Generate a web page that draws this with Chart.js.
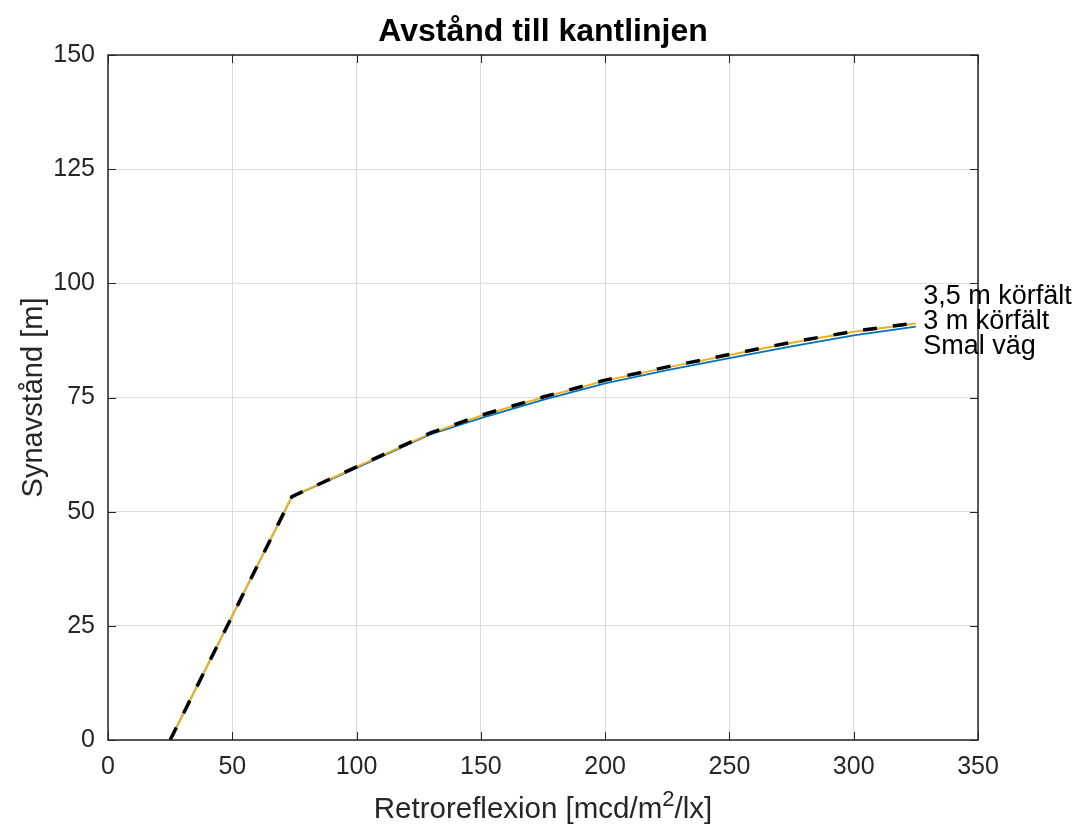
<!DOCTYPE html>
<html>
<head>
<meta charset="utf-8">
<title>Avstånd till kantlinjen</title>
<script src="https://cdn.jsdelivr.net/npm/chart.js@4.4.1/dist/chart.umd.min.js"></script>
<style>
  html, body { margin: 0; padding: 0; background: #ffffff; }
  #wrap { position: relative; width: 1077px; height: 833px; }
</style>
</head>
<body>
<div id="wrap"><canvas id="chart"></canvas></div>
<script>
// Retroreflexion [mcd/m2/lx] vs synavstånd [m]
const retroreflexion = [25, 74, 100, 130, 150, 175, 200, 225, 250, 275, 300, 325];
const smalVag     = [0, 53.3, 59.6, 67.0, 70.5, 74.5, 78.1, 81.0, 83.6, 86.2, 88.6, 90.5];
const treMeter    = [0, 53.3, 59.8, 67.2, 71.0, 75.0, 78.7, 81.6, 84.3, 87.0, 89.4, 91.2];
const treFemMeter = [0, 53.3, 59.8, 67.3, 71.1, 75.1, 78.8, 81.7, 84.4, 87.1, 89.5, 91.3];

const seriesNames = ['Smal väg', '3 m körfält', '3,5 m körfält'];
const seriesColors = ['#0072BD', '#EDB120', '#000000'];

// text placed next to the line ends (data coordinates)
const endLabelX = 328;
const endLabelY = [86.2, 91.6, 97.1];

const xTickValues = [0, 50, 100, 150, 200, 250, 300, 350];
const yTickValues = [0, 25, 50, 75, 100, 125, 150];

const FONT = "'Liberation Sans', Arial, Helvetica, sans-serif";
const AXIS_COLOR = '#262626';

const toPoints = (ys) => retroreflexion.map((x, i) => ({ x, y: ys[i] }));

const framePlugin = {
  id: 'matlabFrame',
  afterDraw(chart) {
    const { ctx, chartArea: area, scales } = chart;
    const xs = scales.x;
    const ys = scales.y;
    ctx.save();

    // inward tick marks on all four sides
    ctx.strokeStyle = AXIS_COLOR;
    ctx.lineWidth = 1;
    const tickLen = 8;
    ctx.beginPath();
    xTickValues.forEach((v) => {
      const px = Math.round(xs.getPixelForValue(v)) + 0.5;
      ctx.moveTo(px, area.bottom);
      ctx.lineTo(px, area.bottom - tickLen);
      ctx.moveTo(px, area.top);
      ctx.lineTo(px, area.top + tickLen);
    });
    yTickValues.forEach((v) => {
      const py = Math.round(ys.getPixelForValue(v)) + 0.5;
      ctx.moveTo(area.left, py);
      ctx.lineTo(area.left + tickLen, py);
      ctx.moveTo(area.right, py);
      ctx.lineTo(area.right - tickLen, py);
    });
    ctx.stroke();

    // axes box
    ctx.lineWidth = 1.5;
    ctx.strokeRect(area.left, area.top, area.right - area.left, area.bottom - area.top);

    // title
    ctx.fillStyle = '#000000';
    ctx.font = `bold 32px ${FONT}`;
    ctx.textAlign = 'center';
    ctx.textBaseline = 'alphabetic';
    const midX = (area.left + area.right) / 2;
    ctx.fillText('Avstånd till kantlinjen', midX, 41);

    // x axis title with superscript
    ctx.fillStyle = AXIS_COLOR;
    const partA = 'Retroreflexion [mcd/m';
    const partSup = '2';
    const partB = '/lx]';
    ctx.font = `29.5px ${FONT}`;
    const wA = ctx.measureText(partA).width;
    const wB = ctx.measureText(partB).width;
    ctx.font = `22px ${FONT}`;
    const wSup = ctx.measureText(partSup).width;
    let cx = midX - (wA + wSup + wB) / 2;
    ctx.textAlign = 'left';
    ctx.font = `29.5px ${FONT}`;
    ctx.fillText(partA, cx, 818);
    cx += wA;
    ctx.font = `22px ${FONT}`;
    ctx.fillText(partSup, cx, 806);
    cx += wSup;
    ctx.font = `29.5px ${FONT}`;
    ctx.fillText(partB, cx, 818);

    // y axis title
    ctx.save();
    ctx.translate(42, (area.top + area.bottom) / 2);
    ctx.rotate(-Math.PI / 2);
    ctx.textAlign = 'center';
    ctx.font = `29px ${FONT}`;
    ctx.fillText('Synavstånd [m]', 0, 0);
    ctx.restore();

    // line end labels
    ctx.fillStyle = '#000000';
    ctx.font = `27px ${FONT}`;
    ctx.textAlign = 'left';
    ctx.textBaseline = 'middle';
    seriesNames.forEach((name, i) => {
      ctx.fillText(name, xs.getPixelForValue(endLabelX), ys.getPixelForValue(endLabelY[i]));
    });

    ctx.restore();
  },
};

new Chart(document.getElementById('chart'), {
  type: 'line',
  data: {
    datasets: [
      {
        label: seriesNames[0],
        data: toPoints(smalVag),
        borderColor: seriesColors[0],
        borderWidth: 1.8,
        order: 3,
      },
      {
        label: seriesNames[1],
        data: toPoints(treMeter),
        borderColor: seriesColors[1],
        borderWidth: 2,
        order: 2,
      },
      {
        label: seriesNames[2],
        data: toPoints(treFemMeter),
        borderColor: seriesColors[2],
        borderWidth: 3.5,
        borderDash: [14, 16],
        order: 1,
      },
    ],
  },
  options: {
    responsive: true,
    maintainAspectRatio: false,
    animation: false,
    devicePixelRatio: 1,
    elements: {
      point: { radius: 0, hoverRadius: 0 },
      line: { tension: 0, fill: false, borderCapStyle: 'butt' },
    },
    layout: { padding: { top: 55, right: 99, left: 0, bottom: 0 } },
    plugins: {
      legend: { display: false },
      title: { display: false },
      tooltip: { enabled: false },
    },
    scales: {
      x: {
        type: 'linear',
        min: 0,
        max: 350,
        afterBuildTicks(scale) {
          scale.ticks = xTickValues.map((value) => ({ value }));
        },
        afterFit(scale) {
          scale.height = 93;
        },
        grid: { color: '#dcdcdc', lineWidth: 1, drawTicks: false },
        border: { display: false },
        ticks: {
          color: AXIS_COLOR,
          font: { family: FONT, size: 25 },
          padding: 12,
          maxRotation: 0,
        },
      },
      y: {
        type: 'linear',
        min: 0,
        max: 150,
        afterBuildTicks(scale) {
          scale.ticks = yTickValues.map((value) => ({ value }));
        },
        afterFit(scale) {
          scale.width = 108;
        },
        grid: { color: '#dcdcdc', lineWidth: 1, drawTicks: false },
        border: { display: false },
        ticks: {
          color: AXIS_COLOR,
          font: { family: FONT, size: 25 },
          padding: 13,
        },
      },
    },
  },
  plugins: [framePlugin],
});
</script>
</body>
</html>
